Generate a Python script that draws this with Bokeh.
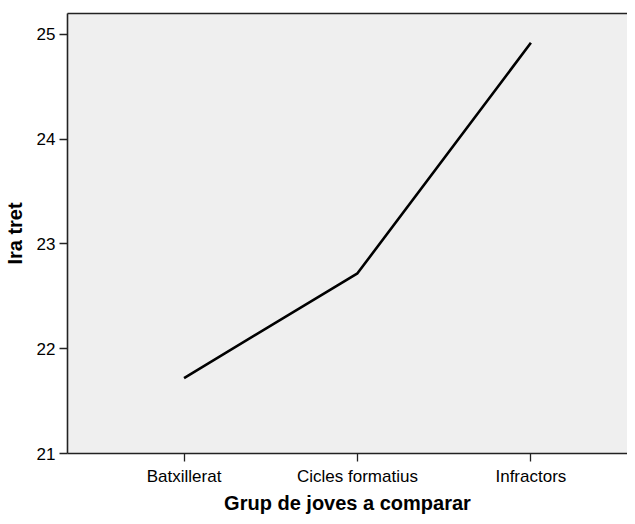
from bokeh.plotting import figure
from bokeh.models import FixedTicker, LinearAxis, Range1d
from bokeh.embed import file_html
from bokeh.resources import INLINE

groups = ["Batxillerat", "Cicles formatius", "Infractors"]
positions = [1, 2, 3]
ira_tret = [21.72, 22.72, 24.92]
y_ticks = [21, 22, 23, 24, 25]

FONT = "Liberation Sans"

p = figure(width=627, height=516, output_backend="svg", toolbar_location=None,
           x_range=Range1d(0.328, 3.557), y_range=Range1d(21, 25.2),
           min_border_left=65, min_border_right=0, min_border_top=13, min_border_bottom=56)
p.background_fill_color = "#efefef"
p.border_fill_color = "white"
p.outline_line_color = None
p.grid.visible = False

p.line(positions, ira_tret, line_color="black", line_width=2.6)

# x axis
xa = p.xaxis[0]
xa.ticker = FixedTicker(ticks=positions)
xa.major_label_overrides = {pos: g for pos, g in zip(positions, groups)}
xa.axis_label = "Grup de joves a comparar"
xa.minor_tick_line_color = None

# y axis
ya = p.yaxis[0]
ya.ticker = FixedTicker(ticks=y_ticks)
ya.axis_label = "Ira tret"
ya.minor_tick_line_color = None

for ax in (xa, ya):
    ax.axis_line_color = "#222222"
    ax.axis_line_width = 1.6
    ax.major_tick_line_color = "#222222"
    ax.major_tick_line_width = 1.3
    ax.major_tick_in = 0
    ax.major_tick_out = 8
    ax.major_label_text_font = FONT
    ax.major_label_text_font_size = "17px"
    ax.major_label_text_color = "black"
    ax.axis_label_text_font = FONT
    ax.axis_label_text_font_size = "20px"
    ax.axis_label_text_font_style = "bold"
    ax.axis_label_text_color = "black"

xa.major_label_standoff = 5
xa.axis_label_standoff = 3
ya.major_label_standoff = 4
ya.axis_label_standoff = 8

# top frame line
top = LinearAxis(ticker=FixedTicker(ticks=[]), major_tick_out=0, major_tick_in=0,
                 minor_tick_out=0, minor_tick_in=0, major_label_text_font_size="0px",
                 axis_line_color="#222222", axis_line_width=1.6)
p.add_layout(top, "above")

open("out.html", "w").write(file_html(p, INLINE))
